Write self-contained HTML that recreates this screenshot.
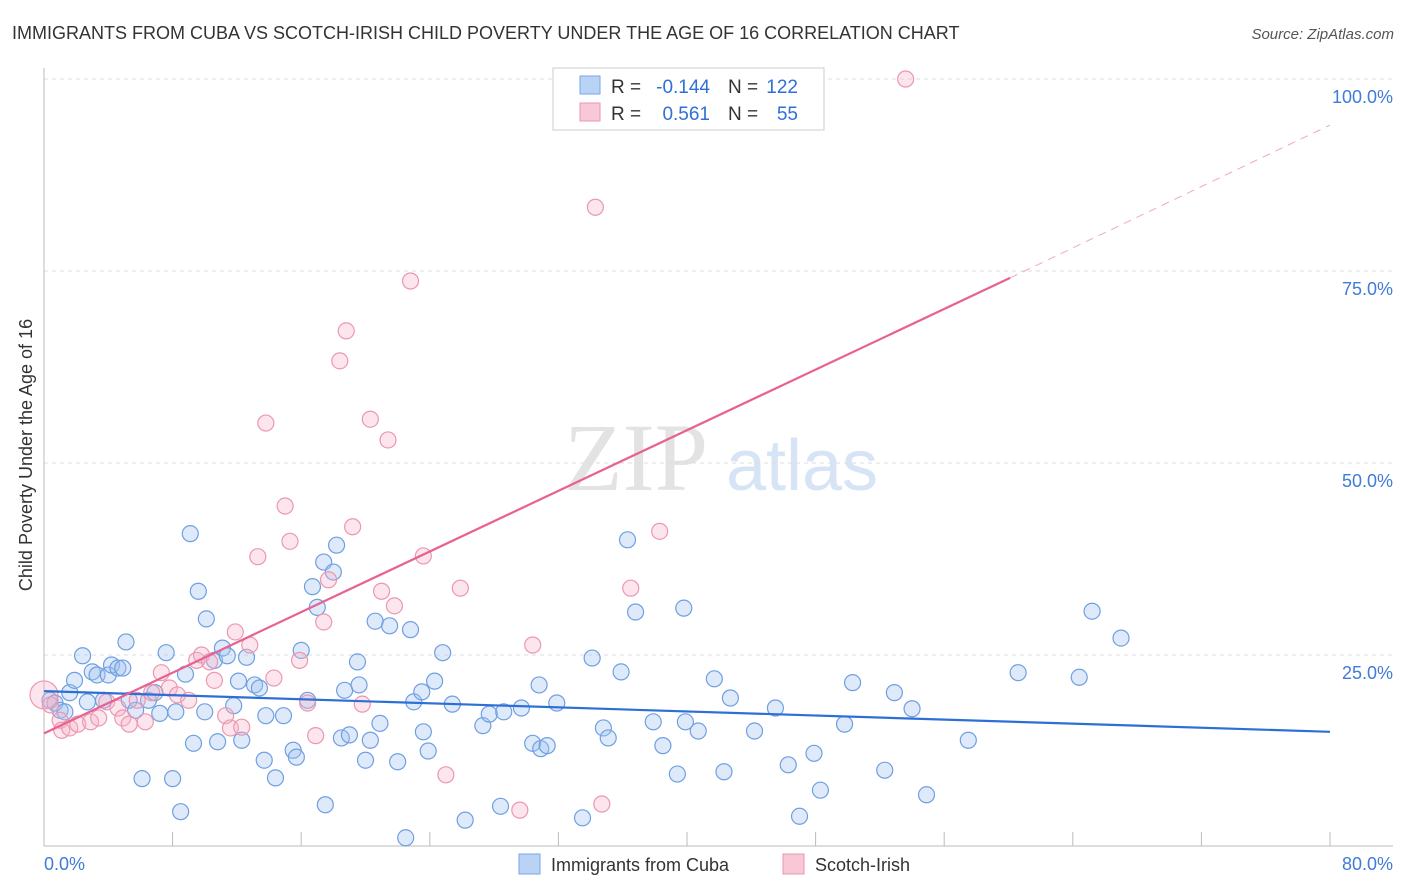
<!DOCTYPE html>
<html><head><meta charset="utf-8">
<style>
html,body{margin:0;padding:0;background:#fff;}
svg{display:block;font-family:"Liberation Sans",sans-serif;}
</style></head>
<body>
<svg id="chart" width="1406" height="892" viewBox="0 0 1406 892">
<text x="12" y="39" font-size="18" fill="#333">IMMIGRANTS FROM CUBA VS SCOTCH-IRISH CHILD POVERTY UNDER THE AGE OF 16 CORRELATION CHART</text>
<text x="1394" y="39" font-size="15" fill="#555" font-style="italic" text-anchor="end">Source: ZipAtlas.com</text>
<text x="32" y="455" font-size="18" fill="#333" text-anchor="middle" transform="rotate(-90 32 455)">Child Poverty Under the Age of 16</text>
<g>
<text x="636" y="490" font-size="96" fill="#e3e3e3" font-family="Liberation Serif,serif" text-anchor="middle">ZIP</text>
<text x="802" y="490" font-size="72" fill="#d6e4f5" text-anchor="middle">atlas</text>
</g>
<g id="grid"></g>
<g id="axes"></g>
<g id="pts"></g>
<g id="trends"></g>
<g>
<rect x="553" y="68" width="271" height="62" fill="#fff" stroke="#ccc"/>
<rect x="580" y="76" width="20" height="18" fill="#b9d3f5" stroke="#7aa6e6"/>
<rect x="580" y="103" width="20" height="18" fill="#f9c8d6" stroke="#eb94ad"/>
<text x="611" y="93" font-size="19" fill="#333">R =</text>
<text x="710" y="93" font-size="19" fill="#2f6fd6" text-anchor="end">-0.144</text>
<text x="728" y="93" font-size="19" fill="#333">N =</text>
<text x="798" y="93" font-size="19" fill="#2f6fd6" text-anchor="end">122</text>
<text x="611" y="120" font-size="19" fill="#333">R =</text>
<text x="710" y="120" font-size="19" fill="#2f6fd6" text-anchor="end">0.561</text>
<text x="728" y="120" font-size="19" fill="#333">N =</text>
<text x="798" y="120" font-size="19" fill="#2f6fd6" text-anchor="end">55</text>
</g>
<g>
<rect x="519" y="854" width="21" height="20" fill="#b9d3f5" stroke="#7aa6e6"/>
<text x="551" y="871" font-size="18" fill="#333">Immigrants from Cuba</text>
<rect x="783" y="854" width="21" height="20" fill="#f9c8d6" stroke="#eb94ad"/>
<text x="815" y="871" font-size="18" fill="#333">Scotch-Irish</text>
</g>
</svg>
<script>
const blueX=[0.37,0.68,1.0,1.3,1.6,1.9,2.4,2.7,3.0,3.3,3.7,4.0,4.2,4.6,4.9,5.1,5.3,5.7,6.1,6.5,6.9,7.2,7.6,8.0,8.2,8.5,8.8,9.1,9.3,9.6,10.0,10.1,10.6,10.8,11.1,11.4,11.8,12.1,12.3,12.6,13.1,13.4,13.7,13.8,14.4,14.9,15.5,15.7,16.0,16.4,16.7,17.0,17.4,17.5,18.0,18.2,18.5,18.7,19.0,19.5,19.6,20.0,20.3,20.6,20.9,21.5,22.0,22.5,22.8,23.0,23.5,23.6,23.9,24.3,24.8,25.4,26.2,27.3,27.7,28.4,28.6,29.7,30.4,30.8,30.9,31.3,31.9,33.5,34.1,34.8,35.1,35.9,36.3,36.8,37.9,38.5,39.4,39.8,39.9,40.7,41.7,42.3,42.7,44.2,45.5,46.3,47.0,47.9,48.3,49.8,50.3,52.3,52.9,54.0,54.9,57.5,60.6,64.4,65.2,67.0];
const blueY=[19.1,18.75,17.8,17.6,20.1,21.7,24.9,18.9,22.8,22.4,19.1,22.4,23.7,23.3,23.3,26.7,19.1,17.8,8.9,19.1,20.1,17.4,25.3,8.9,17.6,4.6,22.5,40.8,13.5,33.3,17.6,29.7,24.3,13.7,25.9,24.9,18.4,21.6,13.9,24.7,21.1,20.7,11.3,17.1,9.0,17.1,12.6,11.7,25.6,19.1,33.9,31.2,37.1,5.5,35.8,39.3,14.2,20.4,14.6,24.1,21.1,11.3,13.9,29.4,16.1,28.8,11.1,1.2,28.3,18.9,20.2,15.0,12.5,21.6,25.3,18.6,3.5,15.8,17.3,5.3,17.6,18.1,13.5,21.1,12.8,13.2,18.75,3.8,24.6,15.5,14.2,22.8,40.0,30.6,16.3,13.2,9.5,31.1,16.3,15.1,21.9,9.8,19.4,15.1,18.1,10.7,4.0,12.2,7.4,16.0,21.4,10.0,20.1,18.0,6.8,13.9,22.7,22.1,30.7,27.2];
const pinkX=[0,0.4,1.0,1.1,1.6,2.1,2.9,3.4,3.9,4.6,4.9,5.3,5.8,6.3,6.7,7.3,7.8,8.3,9.0,9.5,9.8,10.3,10.6,11.3,11.6,11.9,12.3,12.8,13.3,13.8,14.3,15.0,15.3,15.9,16.4,16.9,17.4,17.7,18.4,18.8,19.2,19.8,20.3,21.0,21.4,21.8,22.8,23.6,25.0,25.9,29.6,30.4,34.3,34.7,36.5,38.3,53.6];
const pinkY=[19.8,18.5,16.5,15.2,15.5,16.0,16.3,16.8,18.9,18.1,16.8,16.0,19.1,16.3,20.1,22.7,20.7,19.8,19.1,24.3,25.0,24.1,21.7,17.1,15.5,28.0,15.6,26.3,37.8,55.2,22.0,44.4,39.8,24.3,18.75,14.5,29.3,34.8,63.3,67.2,41.7,18.6,55.7,33.3,53.0,31.4,73.7,37.9,9.4,33.7,4.8,26.3,83.3,5.6,33.7,41.1,100.0];
const yTicks=[25,50,75,100];
const yTickLabels=["25.0%","50.0%","75.0%","100.0%"];
const blueTrend=[[0,20.3],[80,15.0]];
const pinkTrend=[[0,14.8],[60.1,74.1]];
const pinkDash=[[60.1,74.1],[80,94.0]];

const NS="http://www.w3.org/2000/svg";
const X=v=>44+v*16.075, Y=v=>847-v*7.68;
function mk(tag,attrs,parent){const e=document.createElementNS(NS,tag);for(const k in attrs)e.setAttribute(k,attrs[k]);parent.appendChild(e);return e;}
const grid=document.getElementById('grid'),axes=document.getElementById('axes'),pts=document.getElementById('pts'),tr=document.getElementById('trends');
yTicks.forEach((t,i)=>{
 const l=mk('line',{x1:44,x2:1393,y1:Y(t),y2:Y(t),stroke:'#ddd','stroke-dasharray':'4,4'},grid);
 
 
 const tx=mk('text',{x:1393,y:Y(t)+24,'font-size':18,fill:'#3f7bd9','text-anchor':'end'},axes);
 tx.textContent=yTickLabels[i];
 
 
});
const yl=mk('line',{x1:44,x2:44,y1:68,y2:846,stroke:'#bbb'},axes);


const xl=mk('line',{x1:44,x2:1393,y1:846,y2:846,stroke:'#bbb'},axes);


for(let v=8;v<=80;v+=8){
 const t=mk('line',{x1:X(v),x2:X(v),y1:832,y2:846,stroke:'#bbb'},axes);
 
 
}
const x0=mk('text',{x:44,y:870,'font-size':18,fill:'#3f7bd9'},axes);x0.textContent='0.0%';


const x1=mk('text',{x:1393,y:870,'font-size':18,fill:'#3f7bd9','text-anchor':'end'},axes);x1.textContent='80.0%';


blueX.forEach((v,i)=>{
 const c=mk('circle',{cx:X(v),cy:Y(blueY[i]),r:8,fill:'rgba(160,196,240,0.35)',stroke:'#6f9fe2','stroke-width':1.2},pts);
 
 
});
pinkX.forEach((v,i)=>{
 const c=mk('circle',{cx:X(v),cy:Y(pinkY[i]),r:i===0?14:8,fill:'rgba(245,180,200,0.35)',stroke:'#ec97b0','stroke-width':1.2},pts);
 
 
});
function seg(p,color,dash,name){
 const l=mk('line',{x1:X(p[0][0]),y1:Y(p[0][1]),x2:X(p[1][0]),y2:Y(p[1][1]),stroke:color,'stroke-width':dash?1:2.2},tr);
 if(dash)l.setAttribute('stroke-dasharray','8,6');
 
 
}
seg(blueTrend,'#2d6fd6',false,'cuba-trend-line');
seg(pinkTrend,'#e8628f',false,'scotch-irish-trend-line');
seg(pinkDash,'#f0a8be',true,'scotch-irish-trend-extension');
</script>
</body></html>
